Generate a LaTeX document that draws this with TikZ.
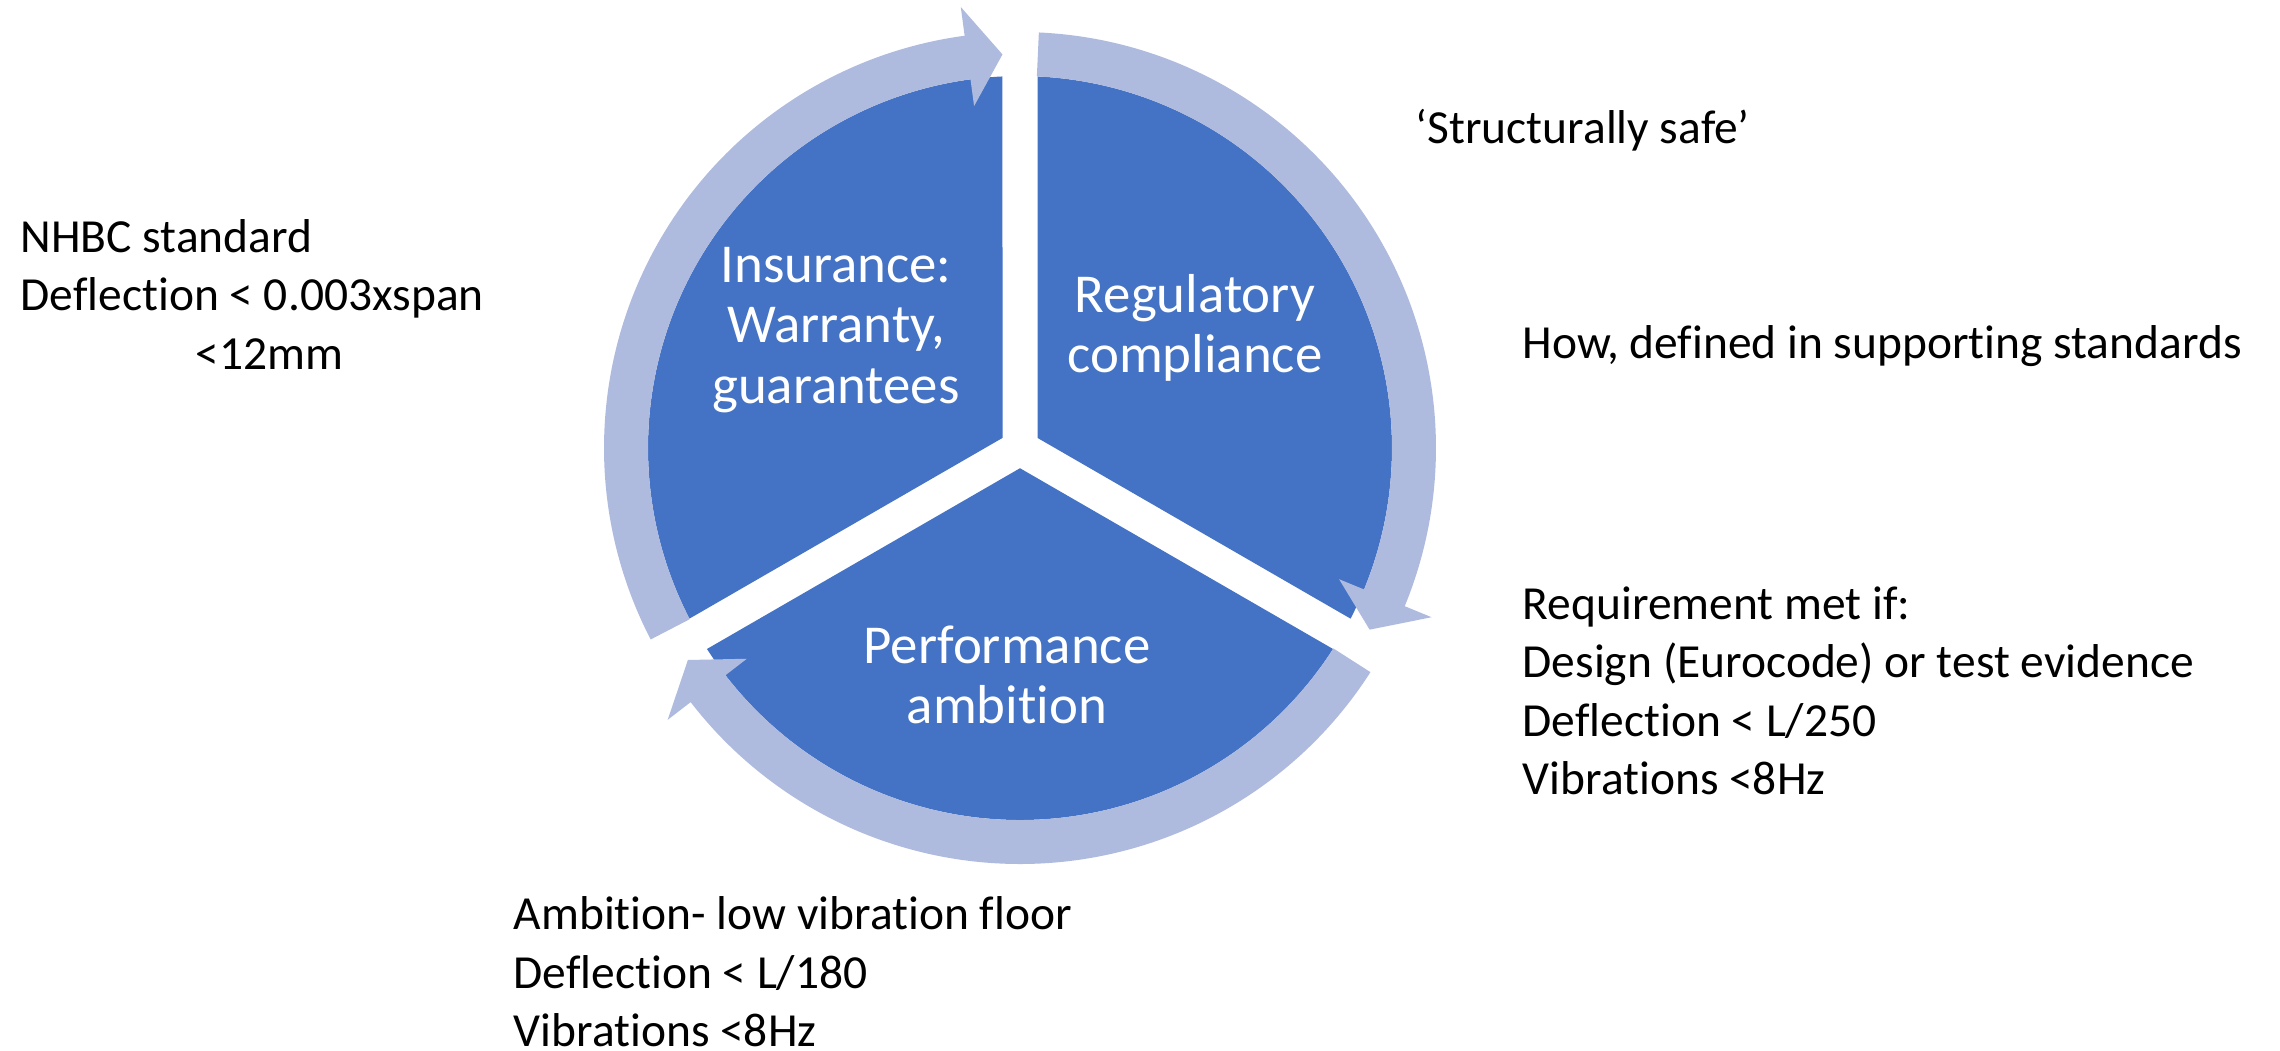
\documentclass[tikz,border=0pt]{standalone}
\usepackage{fontspec}
\setmainfont{Carlito}[Ligatures={NoCommon,NoContextual}]
\definecolor{segblue}{HTML}{4472C4}
\definecolor{ringblue}{HTML}{AFBBDE}

\begin{document}
\begin{tikzpicture}[x=0.01cm, y=0.01cm,
    segment/.style={fill=segblue},
    ringarrow/.style={fill=ringblue},
    inlabel/.style={text=white, align=center, inner sep=0pt, font=\fontsize{15.6}{17.2}\selectfont},
    note/.style={anchor=base west, align=left, inner sep=0pt, font=\fontsize{13.5}{16.5}\selectfont}]
    \useasboundingbox (-1020,-602) rectangle (1260,448);

    \fill[segment] (30:20.2) -- (87.3:372) arc[start angle=87.3, end angle=-27.3, radius=372] -- cycle;
    \fill[segment] (-90:20.2) -- (-32.7:372) arc[start angle=-32.7, end angle=-147.3, radius=372] -- cycle;
    \fill[segment] (150:20.2) -- (207.3:372) arc[start angle=207.3, end angle=92.7, radius=372] -- cycle;

    \fill[ringarrow] (87.4:416) arc[start angle=87.4, end angle=-22.35, radius=416] -- (-22.35:445) -- (-27.45:394) -- (-22.35:345) -- (-22.35:372) arc[start angle=-22.35, end angle=87.4, radius=372] -- cycle;
    \fill[ringarrow] (-32.6:416) arc[start angle=-32.6, end angle=-142.35, radius=416] -- (-142.35:445) -- (-147.45:394) -- (-142.35:345) -- (-142.35:372) arc[start angle=-142.35, end angle=-32.6, radius=372] -- cycle;
    \fill[ringarrow] (207.4:416) arc[start angle=207.4, end angle=97.65, radius=416] -- (97.65:445) -- (92.55:394) -- (97.65:345) -- (97.65:372) arc[start angle=97.65, end angle=207.4, radius=372] -- cycle;

    \node[inlabel] (ins) at (-184, 118) {Insurance:\\Warranty,\\guarantees};
    \node[inlabel] (reg) at (175, 120) {Regulatory\\compliance};
    \node[inlabel] (perf) at (-13, -227) {Performance\\ambition};

    \node[note] (nhbc) at (-1000, 79) {NHBC standard\\Deflection < 0.003xspan\\\hspace*{1.75cm}<12mm};
    \node[note] (safe) at (395, 305) {‘Structurally safe’};
    \node[note] (how) at (502, 90) {How, defined in supporting standards};
    \node[note] (req) at (502, -346) {Requirement met if:\\Design (Eurocode) or test evidence\\Deflection < L/250\\Vibrations <8Hz};
    \node[note] (amb) at (-507, -598) {Ambition- low vibration floor\\Deflection < L/180\\Vibrations <8Hz};
\end{tikzpicture}
\end{document}
